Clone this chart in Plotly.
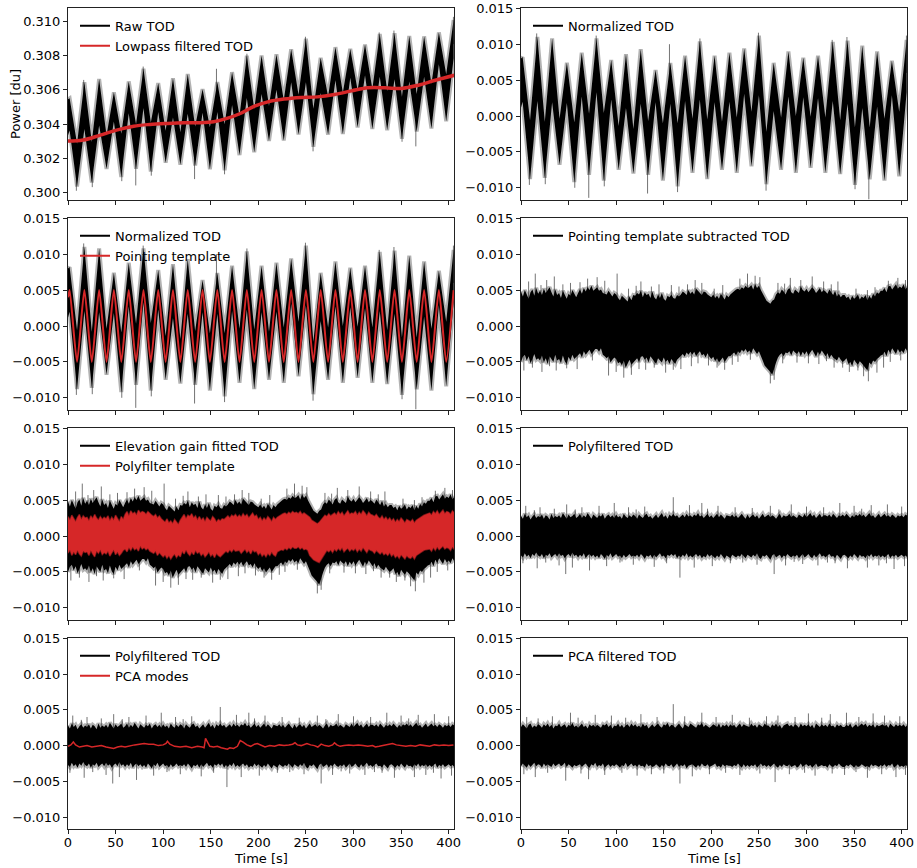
import numpy as np
import plotly.graph_objects as go

W, H = 917, 868
U = 1e-4     # normalized TOD values below are in units of 1e-4
URAW = 1e-5  # raw TOD values below are in units of 1e-5 above 0.3

# ---------------------------------------------------------------------------
# Scan turning points (peaks and troughs of the pointing template), in s
turn_t = [0.0, 1.7, 9.5, 17.2, 25.0, 32.7, 40.5, 48.2, 56.0, 63.8, 71.5, 79.3,
          87.0, 94.8, 102.6, 110.3, 118.1, 125.8, 133.6, 141.4, 149.1, 156.9,
          164.6, 172.4, 180.2, 187.9, 195.7, 203.4, 211.2, 219.0, 226.7, 234.5,
          242.2, 250.0, 257.8, 265.5, 273.3, 281.0, 288.8, 296.6, 304.3, 312.1,
          319.8, 327.6, 335.4, 343.1, 350.9, 358.6, 366.4, 374.2, 381.9, 389.7,
          397.4, 405.2]
pointing_template = [40, 50] + [-50, 50] * 26

# Normalized TOD: upper / lower envelope at each turning point
norm_hi = [80, 82, -6, 110, -8, 108, -4, 74, -9, 88, 3, 108, 4, 78, -14, 86,
           -18, 93, -7, 64, -10, 74, -10, 84, -4, 104, -5, 84, -8, 88, -2, 94,
           6, 112, -22, 74, -2, 90, 0, 81, -1, 84, -2, 103, -6, 105, -16, 98,
           -16, 90, -4, 77, 6, 106]
norm_lo = [12, 20, -88, 21, -86, 19, -68, 18, -92, 27, -82, 33, -90, 23, -75, 11,
           -80, 17, -82, 19, -90, 17, -98, 21, -79, 23, -88, 19, -75, 20, -79, 31,
           -70, 29, -95, 7, -75, 27, -79, 26, -72, 25, -79, 21, -81, 17, -96, 11,
           -88, 13, -90, 29, -84, 33]
norm_spike_t = [8.8, 25.5, 56.5, 71.2, 87.5, 133.0, 164.5, 257.5, 351.0, 365.5,
                16.5, 79.0, 156.0, 188.0, 249.5, 327.0, 342.5, 405.0]
norm_spike_base = [-60] * 10 + [60] * 8
norm_spike_tip = [-96, -95, -100, -114, -98, -108, -106, -104, -102, -116,
                  115, 112, 100, 108, 116, 106, 110, 112]

# Raw TOD envelope at the same turning points
raw_hi = [545, 551, 285, 644, 296, 663, 333, 586, 344, 649, 399, 723, 410, 639,
          361, 667, 352, 692, 386, 604, 381, 645, 399, 703, 447, 799, 488, 800,
          506, 807, 539, 837, 572, 898, 490, 787, 561, 849, 583, 839, 598, 865,
          605, 926, 593, 930, 559, 914, 576, 912, 636, 935, 691, 1007]
raw_lo = [337, 362, 36, 372, 59, 392, 139, 415, 91, 463, 140, 494, 123, 471,
          175, 438, 163, 460, 158, 467, 137, 471, 131, 511, 219, 552, 236, 576,
          302, 600, 305, 644, 340, 644, 268, 582, 339, 656, 342, 671, 381, 685,
          371, 676, 365, 662, 315, 648, 357, 676, 374, 749, 417, 784]
raw_spike_base = [121, 139, 189, 207, 215, 225, 247, 375, 425, 441,
                  490, 577, 601, 665, 739, 795, 793, 867]
raw_spike_tip = [11, 32, 67, 42, 99, 79, 107, 241, 297, 270,
                 658, 736, 723, 811, 910, 935, 946, 1026]

# Lowpass filtered TOD
lowpass_t = [0, 16, 34, 51, 69, 86, 104, 122, 139, 153, 167, 181, 196, 210, 227,
             245, 262, 280, 298, 315, 333, 350, 368, 386, 406]
lowpass_v = [0.30301, 0.30307, 0.30336, 0.30365, 0.30388, 0.30398, 0.30404,
             0.30408, 0.30408, 0.30414, 0.30433, 0.30462, 0.30505, 0.30530,
             0.30546, 0.30555, 0.30559, 0.30573, 0.30594, 0.30612, 0.30612,
             0.30608, 0.30627, 0.30656, 0.30685]

# ---------------------------------------------------------------------------
# Noise-dominated stages, envelope every 2 s
grid_t = np.arange(0, 407, 2)

resid_hi = [48, 41, 50, 44, 38, 47, 51, 42, 53, 45, 49, 43, 52, 46, 50, 54, 47, 41, 51, 43,
            46, 39, 49, 43, 38, 45, 42, 50, 44, 40, 46, 51, 45, 53, 48, 54, 50, 56, 49, 52,
            54, 49, 51, 46, 45, 44, 49, 45, 41, 46, 44, 39, 36, 42, 40, 37, 34, 41, 36, 43,
            42, 46, 44, 49, 40, 47, 43, 45, 39, 48, 40, 37, 44, 39, 46, 38, 35, 42, 40, 44,
            39, 38, 43, 41, 44, 48, 46, 43, 50, 45, 48, 44, 52, 49, 46, 43, 48, 47, 44, 42,
            40, 44, 39, 42, 38, 45, 41, 37, 43, 40, 44, 47, 48, 51, 52, 50, 54, 52, 56, 53,
            54, 57, 51, 58, 53, 56, 50, 44, 38, 35, 33, 31, 35, 37, 44, 47, 45, 51, 48, 44,
            50, 53, 47, 45, 51, 49, 46, 55, 50, 48, 52, 47, 50, 54, 51, 46, 49, 53, 47, 50,
            48, 45, 51, 46, 43, 49, 41, 45, 40, 43, 43, 39, 41, 36, 42, 38, 40, 44, 37, 41,
            39, 43, 36, 42, 38, 45, 41, 47, 45, 49, 49, 53, 47, 55, 56, 51, 55, 58, 52, 55,
            53, 58, 51, 55]
resid_lo = [-50, -43, -40, -48, -42, -52, -46, -39, -47, -45, -48, -41, -51, -45, -53, -42, -47, -50, -40, -48,
            -46, -52, -41, -49, -53, -43, -48, -40, -46, -42, -41, -38, -44, -35, -40, -37, -33, -39, -36, -32,
            -32, -36, -31, -40, -42, -45, -42, -51, -47, -44, -46, -52, -50, -55, -48, -58, -53, -47, -54, -49,
            -48, -45, -50, -43, -42, -47, -44, -51, -42, -46, -49, -53, -45, -48, -51, -44, -50, -47, -53, -46,
            -50, -53, -47, -44, -42, -39, -43, -37, -40, -36, -40, -36, -42, -38, -35, -41, -39, -44, -38, -43,
            -46, -43, -49, -45, -51, -48, -44, -50, -46, -42, -42, -39, -37, -41, -35, -38, -33, -36, -32, -37,
            -34, -38, -31, -36, -39, -35, -42, -48, -55, -58, -61, -64, -68, -60, -51, -44, -40, -38, -42, -37,
            -38, -35, -41, -34, -37, -39, -35, -42, -36, -40, -35, -41, -37, -33, -39, -43, -36, -40, -34, -38,
            -42, -38, -45, -40, -44, -46, -48, -43, -47, -50, -48, -45, -53, -50, -56, -47, -51, -54, -49, -52,
            -55, -58, -62, -51, -54, -48, -50, -46, -44, -41, -40, -36, -42, -33, -38, -31, -35, -39, -32, -37,
            -34, -38, -31, -36]
resid_spike_t = [8, 15, 21, 27, 35, 44, 52, 62, 70, 80, 88, 101, 113, 121, 126, 137, 145, 158,
                 166, 175, 183, 190, 203, 212, 230, 238, 246, 251, 270, 277, 283, 294, 306,
                 318, 326, 333, 352, 364, 372, 386, 396, 404,
                 3, 12, 22, 30, 37, 48, 59, 75, 92, 100, 108, 116, 124, 131, 140, 152, 160,
                 168, 179, 186, 197, 206, 214, 222, 228, 241, 262, 266, 275, 290, 302, 313,
                 321, 329, 338, 345, 354, 360, 365, 374, 381, 388, 399]
resid_spike_v = [62, 73, 57, 64, 69, 58, 60, 61, 66, 68, 63, 73, 52, 56, 62, 55, 58, 57,
                 55, 58, 64, 60, 52, 57, 66, 73, 70, 68, 60, 59, 67, 64, 69,
                 62, 58, 62, 52, 50, 54, 63, 67, 64,
                 -62, -58, -64, -56, -62, -59, -60, -48, -69, -64, -72, -68, -60, -61, -58, -65, -61,
                 -60, -56, -52, -55, -58, -61, -54, -50, -47, -80, -75, -52, -51, -52, -53,
                 -49, -58, -58, -64, -62, -70, -77, -65, -58, -50, -48]

polytemp_hi = [27, 22, 29, 24, 20, 26, 30, 23, 28, 25, 26, 21, 28, 24, 30, 25, 22, 27, 23, 26,
               24, 28, 21, 26, 22, 29, 25, 20, 27, 23, 30, 34, 28, 35, 31, 33, 29, 36, 32, 34,
               33, 30, 34, 31, 29, 27, 30, 25, 28, 24, 22, 19, 24, 18, 21, 17, 23, 20, 16, 22,
               26, 30, 24, 29, 27, 31, 25, 28, 22, 27, 22, 25, 20, 26, 23, 21, 27, 24, 19, 23,
               21, 24, 23, 26, 28, 25, 29, 27, 30, 26, 29, 26, 31, 27, 30, 25, 28, 32, 27, 29,
               23, 26, 21, 25, 22, 27, 24, 20, 26, 23, 26, 28, 29, 31, 32, 30, 33, 31, 34, 32,
               33, 31, 34, 30, 32, 30, 28, 26, 22, 20, 18, 17, 19, 22, 26, 29, 27, 31, 28, 30,
               32, 29, 34, 30, 33, 28, 31, 35, 30, 32, 31, 34, 29, 33, 30, 35, 32, 28, 33, 30,
               29, 27, 30, 26, 24, 28, 23, 26, 22, 25, 21, 24, 19, 23, 20, 25, 22, 18, 23, 21,
               20, 23, 18, 22, 24, 26, 27, 29, 30, 31, 32, 29, 34, 31, 35, 30, 33, 36, 31, 34,
               33, 30, 35, 32]
polytemp_lo = [-24, -19, -27, -22, -26, -20, -25, -28, -21, -23, -22, -27, -20, -25, -29, -21, -24, -19, -26, -23,
               -25, -21, -28, -23, -19, -26, -22, -27, -24, -20, -18, -22, -16, -20, -15, -19, -17, -21, -14, -18,
               -16, -19, -17, -21, -22, -24, -21, -27, -23, -26, -29, -26, -31, -27, -32, -28, -25, -30, -26, -29,
               -21, -25, -19, -24, -27, -22, -26, -20, -24, -22, -27, -24, -29, -26, -22, -28, -25, -30, -24, -27,
               -29, -26, -24, -21, -23, -19, -22, -18, -21, -20, -20, -24, -21, -18, -23, -20, -25, -19, -22, -21,
               -26, -23, -28, -25, -29, -24, -27, -22, -26, -28, -22, -20, -19, -20, -17, -19, -16, -18, -15, -17,
               -17, -15, -18, -16, -19, -18, -20, -27, -30, -33, -35, -36, -37, -33, -28, -24, -20, -22, -19, -23,
               -18, -21, -17, -20, -16, -22, -19, -17, -21, -18, -20, -17, -22, -18, -21, -16, -19, -23, -18, -20,
               -21, -24, -20, -23, -25, -22, -26, -24, -27, -23, -28, -25, -30, -27, -31, -26, -29, -32, -27, -30,
               -31, -28, -32, -27, -26, -24, -22, -20, -19, -18, -18, -21, -16, -20, -15, -19, -17, -14, -18, -16,
               -17, -20, -15, -19]

poly_hi = [28, 24, 31, 26, 29, 23, 27, 30, 25, 28, 26, 30, 24, 29, 27, 23, 31, 25, 28, 26,
           29, 25, 32, 27, 24, 30, 26, 28, 31, 25, 27, 31, 25, 29, 26, 32, 28, 24, 30, 27,
           25, 29, 27, 31, 24, 28, 30, 26, 29, 25, 30, 26, 28, 24, 31, 27, 25, 29, 26, 30,
           28, 24, 30, 27, 25, 29, 31, 26, 28, 24, 27, 30, 25, 28, 32, 26, 29, 24, 30, 27,
           31, 27, 29, 25, 28, 30, 26, 31, 27, 29, 26, 30, 28, 32, 27, 29, 25, 28, 31, 26,
           29, 25, 28, 31, 26, 30, 27, 24, 29, 28, 27, 30, 26, 29, 25, 28, 31, 27, 24, 30,
           25, 28, 30, 26, 29, 24, 27, 31, 26, 29, 30, 26, 29, 27, 24, 28, 31, 25, 29, 27,
           28, 31, 26, 29, 27, 25, 30, 28, 26, 31, 26, 29, 32, 27, 30, 25, 28, 31, 26, 29,
           29, 27, 30, 26, 31, 28, 25, 29, 27, 30, 27, 31, 28, 25, 29, 26, 30, 28, 31, 27,
           30, 26, 29, 32, 27, 29, 25, 28, 31, 26, 28, 31, 27, 29, 26, 30, 28, 25, 29, 27,
           29, 26, 30, 28]
poly_lo = [-27, -30, -24, -29, -26, -31, -25, -28, -23, -27, -29, -25, -31, -26, -28, -24, -30, -27, -25, -29,
           -24, -28, -26, -31, -27, -25, -29, -23, -28, -26, -30, -26, -29, -24, -31, -27, -25, -29, -26, -30,
           -27, -31, -25, -28, -32, -26, -29, -24, -30, -28, -25, -29, -27, -31, -26, -30, -28, -25, -29, -27,
           -29, -26, -30, -25, -28, -32, -27, -29, -26, -31, -26, -30, -28, -24, -29, -27, -31, -26, -28, -25,
           -28, -25, -31, -27, -30, -26, -29, -24, -30, -27, -30, -27, -25, -29, -26, -31, -28, -30, -25, -29,
           -26, -29, -31, -27, -30, -25, -28, -32, -27, -29, -31, -26, -28, -30, -27, -29, -25, -28, -31, -26,
           -28, -30, -26, -29, -24, -30, -32, -27, -29, -26, -29, -33, -27, -25, -30, -28, -26, -31, -27, -29,
           -25, -28, -30, -27, -29, -26, -31, -28, -25, -30, -28, -25, -29, -31, -26, -30, -27, -24, -29, -27,
           -30, -27, -25, -29, -28, -31, -26, -29, -32, -27, -26, -29, -31, -27, -30, -25, -28, -31, -26, -29,
           -28, -31, -26, -29, -25, -30, -27, -29, -26, -30, -27, -30, -28, -25, -31, -27, -29, -26, -30, -28,
           -26, -29, -27, -30]
poly_spike_t = [5, 14, 20, 35, 48, 57, 64, 82, 98, 113, 121, 130, 160, 177, 190, 196, 207,
                225, 243, 262, 271, 284, 300, 318, 335, 350, 358, 368, 385, 400,
                2, 17, 26, 40, 47, 54, 72, 90, 104, 118, 140, 153, 167, 182, 201, 220, 233,
                248, 266, 278, 287, 296, 312, 322, 330, 343, 364, 376, 384, 392, 403]
poly_spike_v = [42, 36, 40, 38, 44, 37, 40, 42, 46, 40, 37, 41, 54, 43, 46, 38, 42,
                40, 39, 42, 37, 44, 41, 40, 46, 42, 38, 43, 44, 41,
                -38, -45, -37, -41, -53, -44, -48, -42, -37, -40, -43, -38, -58, -44, -42, -38, -37,
                -40, -53, -41, -36, -39, -41, -37, -38, -45, -44, -41, -38, -46, -42]

pcaf_hi = [26, 30, 27, 24, 29, 31, 25, 28, 26, 30, 28, 25, 30, 27, 31, 26, 29, 24, 28, 27,
           31, 26, 28, 30, 25, 29, 27, 32, 26, 28, 25, 29, 31, 26, 28, 24, 30, 27, 29, 26,
           29, 27, 25, 30, 28, 31, 26, 29, 24, 28, 27, 31, 26, 29, 25, 28, 30, 26, 31, 27,
           30, 26, 28, 25, 31, 27, 29, 24, 28, 30, 26, 29, 31, 27, 25, 30, 28, 32, 26, 29,
           28, 25, 29, 31, 27, 24, 30, 28, 26, 31, 29, 27, 25, 30, 28, 32, 26, 29, 27, 25,
           27, 30, 28, 26, 31, 25, 29, 27, 30, 26, 30, 27, 29, 25, 28, 31, 26, 30, 28, 27,
           26, 31, 27, 29, 25, 30, 28, 26, 31, 28, 28, 25, 30, 27, 31, 26, 29, 24, 28, 30,
           31, 27, 29, 26, 30, 28, 25, 31, 27, 29, 27, 30, 26, 29, 24, 31, 28, 26, 30, 27,
           29, 26, 31, 27, 28, 25, 30, 27, 29, 26, 26, 29, 27, 31, 25, 28, 30, 26, 28, 31,
           28, 31, 26, 29, 27, 30, 25, 29, 27, 28, 30, 27, 29, 25, 31, 28, 26, 30, 27, 29,
           27, 30, 26, 29]
pcaf_lo = [-29, -25, -28, -31, -26, -30, -27, -24, -29, -26, -27, -31, -25, -29, -26, -28, -30, -25, -29, -27,
           -25, -29, -27, -24, -30, -26, -28, -31, -27, -29, -28, -26, -30, -27, -25, -29, -31, -26, -28, -24,
           -30, -27, -29, -25, -31, -28, -26, -30, -27, -29, -26, -28, -31, -27, -29, -24, -30, -28, -25, -29,
           -27, -30, -26, -29, -28, -31, -25, -29, -27, -30, -29, -26, -28, -31, -27, -30, -25, -28, -29, -26,
           -31, -28, -25, -30, -27, -29, -26, -32, -28, -27, -26, -29, -31, -27, -30, -25, -28, -29, -26, -30,
           -29, -27, -25, -30, -28, -31, -26, -29, -27, -28, -28, -30, -27, -29, -25, -28, -31, -26, -30, -27,
           -30, -27, -29, -26, -31, -28, -25, -29, -27, -30, -27, -30, -28, -25, -29, -31, -27, -30, -26, -28,
           -29, -26, -30, -28, -27, -31, -29, -25, -30, -27, -26, -29, -27, -31, -28, -25, -30, -28, -27, -29,
           -28, -31, -26, -29, -30, -27, -29, -25, -28, -30, -30, -27, -29, -26, -28, -31, -27, -30, -29, -26,
           -27, -30, -28, -31, -26, -29, -27, -28, -30, -27, -29, -26, -30, -27, -28, -25, -31, -29, -26, -30,
           -28, -30, -27, -29]
pcaf_spike_t = [6, 18, 33, 52, 60, 78, 95, 110, 126, 143, 160, 172, 190, 205, 222, 240, 258,
                270, 288, 302, 316, 325, 342, 355, 370, 382, 398,
                3, 15, 28, 47, 63, 71, 88, 106, 122, 137, 150, 167, 180, 198, 215, 230, 251,
                267, 282, 298, 309, 327, 340, 352, 364, 379, 394, 404]
pcaf_spike_v = [40, 38, 41, 46, 39, 43, 42, 39, 44, 40, 58, 41, 46, 40, 43, 39, 41,
                42, 40, 45, 39, 44, 46, 40, 45, 42, 41,
                -40, -44, -38, -49, -39, -47, -41, -38, -42, -40, -39, -53, -43, -40, -38, -41, -39,
                -51, -40, -38, -42, -39, -41, -37, -45, -40, -44, -41]

# PCA modes (common-mode template removed in the last step)
pca_t = [0, 3, 5.6, 8, 12, 16, 20, 25, 30, 35, 40, 44, 48, 52, 56, 60, 65, 70, 75, 80,
         85, 90, 95, 100, 103, 104.5, 107, 112, 118, 124, 130, 136, 141, 143, 144.5, 146.5,
         149, 153, 157, 161, 165, 167.5, 170, 174, 178, 181, 184, 188, 192, 196, 199, 203,
         207, 212, 217, 222, 227, 232, 236, 238.5, 241, 245, 249, 251, 255, 259, 262.5, 266,
         270, 274, 278, 280, 282.5, 286, 290, 295, 300, 305, 310, 315, 320, 323, 327, 331,
         335, 338, 341, 345, 350, 355, 360, 365, 370, 375, 380, 385, 390, 395, 400, 405]
pca_v = [-1, 1, 5, 1, -2, -1, 0, -2, -1, 0, -2, -3, -4, -2, -1, -2, 0, 1, 2, 3,
         2, 2, 0, 1, 3, 6, 2, -1, -2, -1, -3, -1, -2, -3, 10, 4, -1, -2, -1, -3,
         -4, -5, -3, -4, -1, 7, 5, 1, -1, 2, 3, 1, -2, 0, -1, 1, 0, 1, 2, 4,
         1, 0, 2, 3, 1, 0, -2, 2, 0, -1, 1, 4, 1, -1, 0, 1, 0, 1, 0, -1,
         0, -2, -1, 0, 1, 2, 3, 1, 0, -1, 0, -1, 1, 0, -1, 1, 0, 1, 0, 1]

# ---------------------------------------------------------------------------
BLACK = "black"
RED = "#d62728"
FONT = "DejaVu Sans"
EDGE_K = "rgba(0,0,0,0.30)"
SPIKE_K = "rgba(0,0,0,0.55)"

col_px = [(68, 454), (521, 907)]
row_px = [(8.3, 200), (218.3, 410), (428.3, 620), (638.3, 829.3)]

fig = go.Figure()


def axis_ids(k):
    n = "" if k == 0 else str(k + 1)
    return "x" + n, "y" + n, ("legend" if k == 0 else "legend" + str(k + 1))


def band(k, t, hi, lo, scale, offset=0.0, fill=BLACK, edge=EDGE_K, ew=4.0):
    t = np.asarray(t, float)
    hi = offset + scale * np.asarray(hi, float)
    lo = offset + scale * np.asarray(lo, float)
    xa, ya, _ = axis_ids(k)
    fig.add_trace(go.Scatter(
        x=np.concatenate([t, t[::-1]]), y=np.concatenate([hi, lo[::-1]]),
        fill="toself", fillcolor=fill, mode="lines",
        line=dict(color=edge, width=ew), xaxis=xa, yaxis=ya,
        showlegend=False, hoverinfo="skip"))


def spikes(k, t, base, tip, scale, offset=0.0, color=SPIKE_K):
    xs, ys = [], []
    for a, b, c in zip(t, base, tip):
        xs += [a, a, None]
        ys += [offset + scale * b, offset + scale * c, None]
    xa, ya, _ = axis_ids(k)
    fig.add_trace(go.Scatter(x=xs, y=ys, mode="lines",
                             line=dict(color=color, width=1), xaxis=xa, yaxis=ya,
                             showlegend=False, hoverinfo="skip"))


def curve(k, t, v, color, width, shape="linear", smoothing=1.0):
    xa, ya, _ = axis_ids(k)
    fig.add_trace(go.Scatter(x=t, y=v, mode="lines",
                             line=dict(color=color, width=width, shape=shape,
                                       smoothing=smoothing),
                             xaxis=xa, yaxis=ya, showlegend=False, hoverinfo="skip"))


def legend_entry(k, name, color):
    xa, ya, lg = axis_ids(k)
    fig.add_trace(go.Scatter(x=[None], y=[None], mode="lines", name=name,
                             line=dict(color=color, width=2), xaxis=xa, yaxis=ya,
                             legend=lg, showlegend=True))


def zero_base(v):
    return [0] * len(v)


# 1: raw TOD with lowpass
band(0, turn_t, raw_hi, raw_lo, URAW, 0.3)
spikes(0, norm_spike_t, raw_spike_base, raw_spike_tip, URAW, 0.3)
curve(0, lowpass_t, lowpass_v, RED, 3.5, "spline")
legend_entry(0, "Raw TOD", BLACK)
legend_entry(0, "Lowpass filtered TOD", RED)

# 2: normalized TOD
band(1, turn_t, norm_hi, norm_lo, U)
spikes(1, norm_spike_t, norm_spike_base, norm_spike_tip, U)
legend_entry(1, "Normalized TOD", BLACK)

# 3: normalized TOD with pointing template
band(2, turn_t, norm_hi, norm_lo, U)
spikes(2, norm_spike_t, norm_spike_base, norm_spike_tip, U)
curve(2, turn_t, np.asarray(pointing_template) * U, RED, 2, "spline", 0.6)
legend_entry(2, "Normalized TOD", BLACK)
legend_entry(2, "Pointing template", RED)

# 4: pointing template subtracted
band(3, grid_t, resid_hi, resid_lo, U)
spikes(3, resid_spike_t, zero_base(resid_spike_v), resid_spike_v, U)
legend_entry(3, "Pointing template subtracted TOD", BLACK)

# 5: elevation gain fitted TOD with polyfilter template
band(4, grid_t, resid_hi, resid_lo, U)
spikes(4, resid_spike_t, zero_base(resid_spike_v), resid_spike_v, U)
band(4, grid_t, polytemp_hi, polytemp_lo, U, fill=RED,
     edge="rgba(214,39,40,0.55)", ew=1.5)
legend_entry(4, "Elevation gain fitted TOD", BLACK)
legend_entry(4, "Polyfilter template", RED)

# 6: polyfiltered TOD
band(5, grid_t, poly_hi, poly_lo, U)
spikes(5, poly_spike_t, zero_base(poly_spike_v), poly_spike_v, U)
legend_entry(5, "Polyfiltered TOD", BLACK)

# 7: polyfiltered TOD with PCA modes
band(6, grid_t, poly_hi, poly_lo, U)
spikes(6, poly_spike_t, zero_base(poly_spike_v), poly_spike_v, U)
curve(6, pca_t, np.asarray(pca_v) * U, RED, 1.5)
legend_entry(6, "Polyfiltered TOD", BLACK)
legend_entry(6, "PCA modes", RED)

# 8: PCA filtered TOD
band(7, grid_t, pcaf_hi, pcaf_lo, U)
spikes(7, pcaf_spike_t, zero_base(pcaf_spike_v), pcaf_spike_v, U)
legend_entry(7, "PCA filtered TOD", BLACK)

# ---------------------------------------------------------------------------
axis_style = dict(showline=True, linecolor="#222", linewidth=1, mirror=True,
                  ticks="outside", ticklen=4, tickwidth=1, tickcolor="#222",
                  showgrid=False, zeroline=False, automargin=False,
                  tickfont=dict(family=FONT, size=13, color="black"))
layout = dict(width=W, height=H, margin=dict(l=0, r=0, t=0, b=0),
              paper_bgcolor="white", plot_bgcolor="white", hovermode=False,
              font=dict(family=FONT, size=13, color="black"))

x_ticks = list(range(0, 401, 50))
y_ticks = [-0.010, -0.005, 0.0, 0.005, 0.010, 0.015]
p_ticks = [0.300, 0.302, 0.304, 0.306, 0.308, 0.310]

for k in range(8):
    r, c = divmod(k, 2)
    x0, x1 = col_px[c]
    y0, y1 = row_px[r]
    xd = [x0 / W, x1 / W]
    yd = [1 - y1 / H, 1 - y0 / H]
    n = "" if k == 0 else str(k + 1)
    layout["xaxis" + n] = dict(axis_style, domain=xd, range=[0, 405.6],
                               anchor="y" + n, tickvals=x_ticks,
                               showticklabels=(r == 3), ticklabelstandoff=-3)
    if k == 0:
        yax = dict(range=[0.29957, 0.31076], tickvals=p_ticks)
    else:
        yax = dict(range=[-0.0117, 0.015], tickvals=y_ticks)
    layout["yaxis" + n] = dict(axis_style, domain=yd, anchor="x" + n,
                               tickformat=".3f", **yax)
    layout["legend" + n] = dict(x=xd[0] + 7 / W, y=yd[1] - 2.5 / H,
                                xanchor="left", yanchor="top",
                                bgcolor="rgba(0,0,0,0)", borderwidth=0,
                                font=dict(family=FONT, size=13, color="black"),
                                itemwidth=30, tracegroupgap=0)

layout["annotations"] = [
    dict(text="Power [du]", x=15 / W, y=1 - 104 / H, xref="paper", yref="paper",
         xanchor="center", yanchor="middle", textangle=-90, showarrow=False,
         font=dict(family=FONT, size=13)),
    dict(text="Time [s]", x=261 / W, y=1 - 858 / H, xref="paper", yref="paper",
         xanchor="center", yanchor="middle", showarrow=False,
         font=dict(family=FONT, size=13)),
    dict(text="Time [s]", x=714 / W, y=1 - 858 / H, xref="paper", yref="paper",
         xanchor="center", yanchor="middle", showarrow=False,
         font=dict(family=FONT, size=13)),
]

fig.update_layout(**layout)
fig.write_html("out.html")
